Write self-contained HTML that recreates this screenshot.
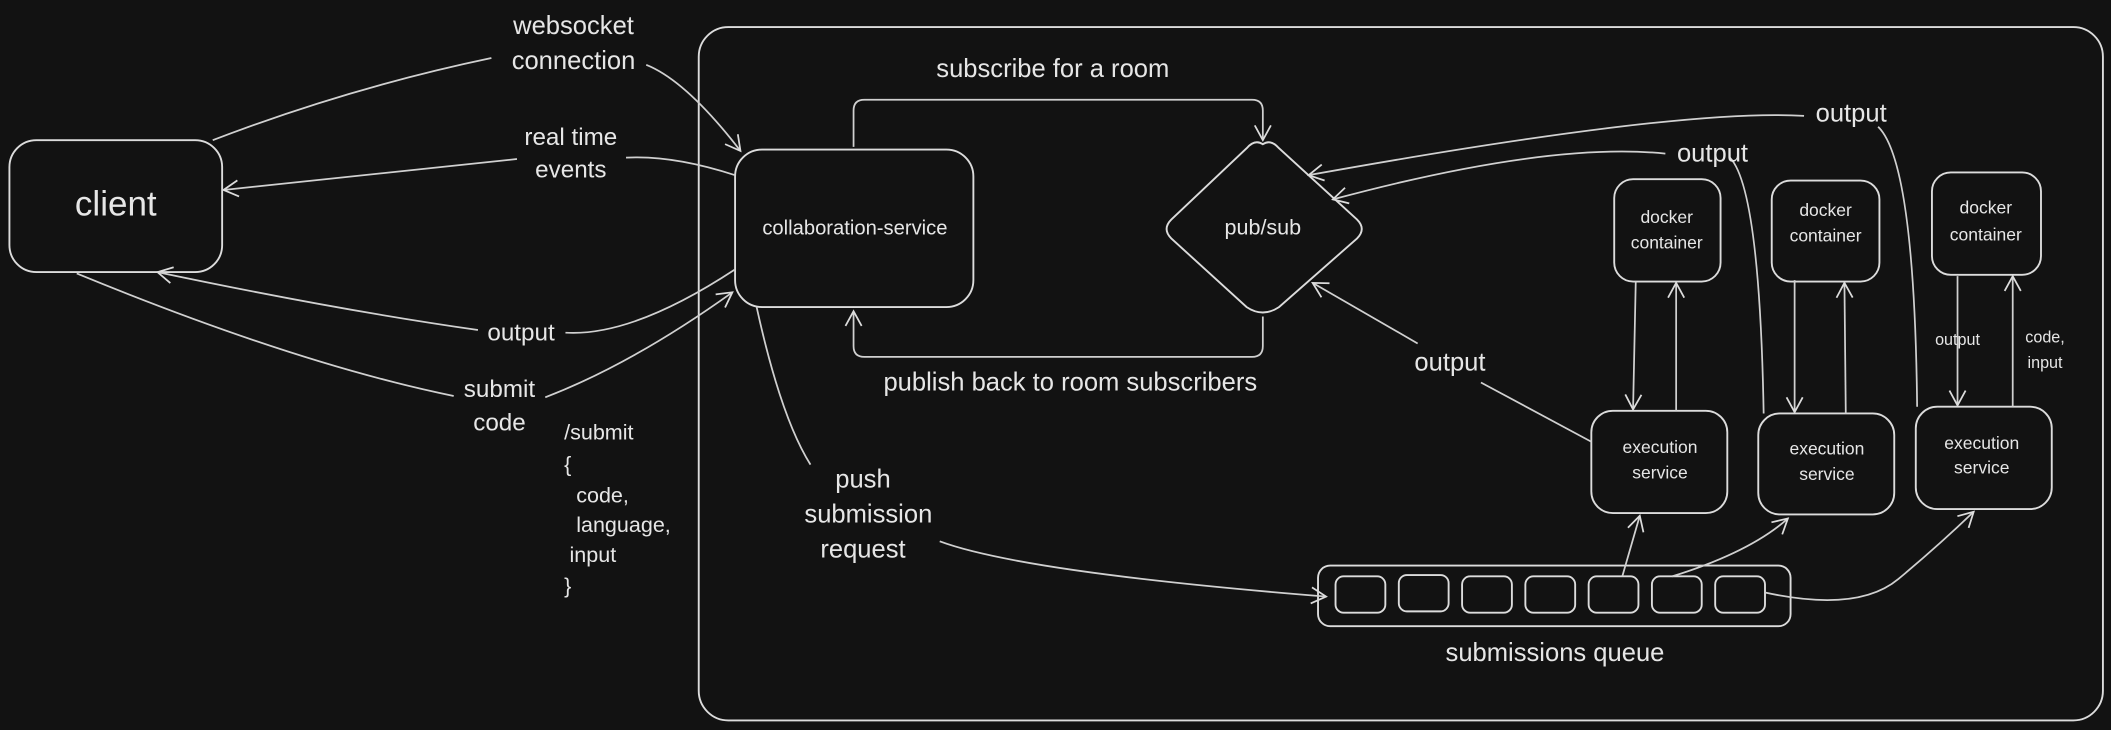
<!DOCTYPE html>
<html><head><meta charset="utf-8"><style>
html,body{margin:0;padding:0;background:#121212;}
svg{display:block}
text{font-family:"Liberation Sans","DejaVu Sans",sans-serif;fill:#e6e6e6;text-anchor:middle;dominant-baseline:middle}
</style></head><body>
<svg width="2111" height="730" viewBox="0 0 1568 542" xmlns="http://www.w3.org/2000/svg">
<defs>
<marker id="a" markerWidth="14" markerHeight="14" refX="12" refY="7" orient="auto" markerUnits="userSpaceOnUse">
<path d="M1,1 L12,7 L1,13" fill="none" stroke="#dcdcdc" stroke-width="1.3"/>
</marker>
</defs>
<rect width="1568" height="542" fill="#121212"/>
<g fill="none" stroke="#dcdcdc" stroke-width="1.4">
<rect x="519" y="20" width="1043" height="515" rx="22"/>
<rect x="7" y="104" width="158" height="98" rx="20"/>
<rect x="546" y="111" width="177" height="117" rx="20"/>
<path d="M938,107 Q944,103 950,110 L1008,163 Q1015,170 1008,177 L950,228 Q938,236 926,228 L870,177 Q863,170 870,163 L926,110 Q932,103 938,107Z"/>
<rect x="1199" y="133" width="79" height="76" rx="14"/>
<rect x="1316" y="134" width="80" height="75" rx="14"/>
<rect x="1435" y="128" width="81" height="76" rx="14"/>
<rect x="1182" y="305" width="101" height="76" rx="16"/>
<rect x="1306" y="307" width="101" height="75" rx="16"/>
<rect x="1423" y="302" width="101" height="76" rx="16"/>
<rect x="979" y="420" width="351" height="45" rx="9"/>
<rect x="992" y="428" width="37" height="27" rx="6"/>
<rect x="1039" y="427" width="37" height="27" rx="6"/>
<rect x="1086" y="428" width="37" height="27" rx="6"/>
<rect x="1133" y="428" width="37" height="27" rx="6"/>
<rect x="1180" y="428" width="37" height="27" rx="6"/>
<rect x="1227" y="428" width="37" height="27" rx="6"/>
<rect x="1274" y="428" width="37" height="27" rx="6"/>
</g>
<g fill="none" stroke="#d0d0d0" stroke-width="1.3">
<!-- websocket -->
<path d="M158,104 Q260,65 365,43"/>
<path d="M480,48 Q510,60 550,112" marker-end="url(#a)"/>
<!-- real time events -->
<path d="M546,130 Q500,115 465,117"/>
<path d="M384,118 L166,141" marker-end="url(#a)"/>
<!-- output to client -->
<path d="M546,200 Q470,250 420,247"/>
<path d="M355,245 Q250,230 117,202" marker-end="url(#a)"/>
<!-- submit code -->
<path d="M57,203 Q220,270 337,294"/>
<path d="M405,295 Q470,270 544,217" marker-end="url(#a)"/>
<!-- subscribe loop -->
<path d="M634,109 L634,82 Q634,74 642,74 L930,74 Q938,74 938,82 L938,104" marker-end="url(#a)"/>
<!-- publish loop -->
<path d="M938,235 L938,257 Q938,265 930,265 L642,265 Q634,265 634,257 L634,231" marker-end="url(#a)"/>
<!-- push submission -->
<path d="M562,228 Q580,310 602,345"/>
<path d="M698,402 Q760,425 985,443" marker-end="url(#a)"/>
<!-- queue to exec -->
<path d="M1205,428 L1218,383" marker-end="url(#a)"/>
<path d="M1242,428 Q1300,410 1328,385" marker-end="url(#a)"/>
<path d="M1311,440 Q1380,455 1410,430 Q1440,405 1466,380" marker-end="url(#a)"/>
<!-- output from exec1 to pubsub -->
<path d="M1182,328 L1100,284"/>
<path d="M1053,255 L975,210" marker-end="url(#a)"/>
<!-- long outputs -->
<path d="M1310,307 Q1307,140 1285,117"/>
<path d="M1237,114 Q1150,105 990,148" marker-end="url(#a)"/>
<path d="M1424,302 Q1422,120 1395,94"/>
<path d="M1340,86 Q1250,80 972,130" marker-end="url(#a)"/>
<!-- docker <-> exec -->
<path d="M1215,209 L1213,304" marker-end="url(#a)"/>
<path d="M1245,305 L1245,210" marker-end="url(#a)"/>
<path d="M1333,208 L1333,306" marker-end="url(#a)"/>
<path d="M1371,307 L1370,210" marker-end="url(#a)"/>
<path d="M1454,205 L1454,301" marker-end="url(#a)"/>
<path d="M1495,302 L1495,205" marker-end="url(#a)"/>
</g>
<text x="86" y="153" font-size="26">client</text>
<text x="635" y="170" font-size="15">collaboration-service</text>
<text x="938" y="170" font-size="16">pub/sub</text>
<text x="426" y="20" font-size="19">websocket</text>
<text x="426" y="46" font-size="19">connection</text>
<text x="424" y="103" font-size="18">real time</text>
<text x="424" y="127" font-size="18">events</text>
<text x="387" y="248" font-size="18">output</text>
<text x="371" y="290" font-size="18">submit</text>
<text x="371" y="315" font-size="18">code</text>
<g font-size="16" style="text-anchor:start">
<text x="419" y="322" style="text-anchor:start">/submit</text>
<text x="419" y="346" style="text-anchor:start">{</text>
<text x="428" y="369" style="text-anchor:start">code,</text>
<text x="428" y="391" style="text-anchor:start">language,</text>
<text x="423" y="413" style="text-anchor:start">input</text>
<text x="419" y="436" style="text-anchor:start">}</text>
</g>
<text x="782" y="52" font-size="19">subscribe for a room</text>
<text x="795" y="285" font-size="19">publish back to room subscribers</text>
<text x="641" y="357" font-size="19">push</text>
<text x="645" y="383" font-size="19">submission</text>
<text x="641" y="409" font-size="19">request</text>
<text x="1077" y="270" font-size="19">output</text>
<text x="1272" y="115" font-size="19">output</text>
<text x="1375" y="85" font-size="19">output</text>
<text x="1238" y="162" font-size="13">docker</text>
<text x="1238" y="181" font-size="13">container</text>
<text x="1356" y="157" font-size="13">docker</text>
<text x="1356" y="176" font-size="13">container</text>
<text x="1475" y="155" font-size="13">docker</text>
<text x="1475" y="175" font-size="13">container</text>
<text x="1233" y="333" font-size="13">execution</text>
<text x="1233" y="352" font-size="13">service</text>
<text x="1357" y="334" font-size="13">execution</text>
<text x="1357" y="353" font-size="13">service</text>
<text x="1472" y="330" font-size="13">execution</text>
<text x="1472" y="348" font-size="13">service</text>
<text x="1454" y="253" font-size="12">output</text>
<text x="1519" y="251" font-size="12">code,</text>
<text x="1519" y="270" font-size="12">input</text>
<text x="1155" y="486" font-size="19">submissions queue</text>
</svg>
</body></html>
